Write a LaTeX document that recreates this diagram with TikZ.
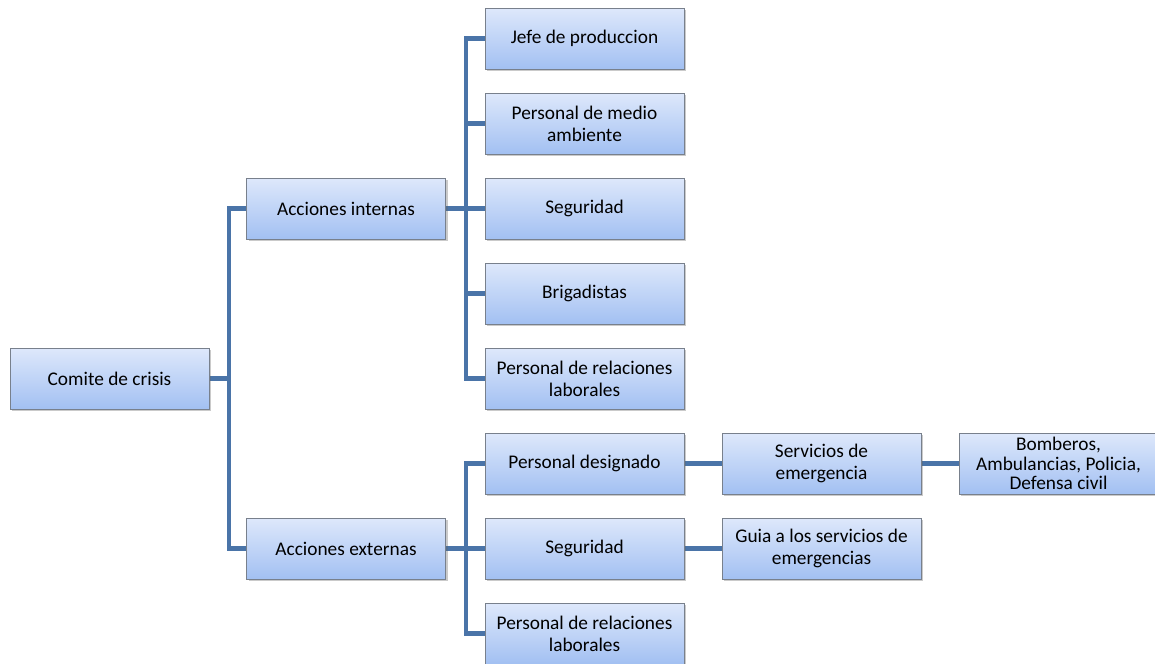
\documentclass[tikz,border=0pt]{standalone}
\usepackage{fontspec}
\setmainfont{Carlito}
\usepackage{xcolor}
\usetikzlibrary{shadows, backgrounds}
\definecolor{LineColor}{RGB}{74, 116, 168}
\definecolor{BoxTop}{RGB}{222, 232, 251}
\definecolor{BoxBottom}{RGB}{162, 192, 242}
\definecolor{BoxBorder}{RGB}{120, 128, 140}

\begin{document}
\begin{tikzpicture}[
    x=0.02cm, y=-0.02cm,
    caja/.style={
        draw=BoxBorder, line width=0.4pt,
        top color=BoxTop, bottom color=BoxBottom,
        minimum width=3.98cm, minimum height=1.22cm,
        align=center, inner ysep=0pt,
        font=\fontsize{11}{12.6}\selectfont,
        drop shadow={shadow xshift=1.2pt, shadow yshift=-1.2pt,
                     opacity=0.35, fill=black!60}
    },
    conn/.style={draw=LineColor, line width=2.3pt, line cap=rect},
]
\useasboundingbox (0,0) rectangle (1155,663);
\clip (0,0) rectangle (1155,663);

%% Level 1
\node[caja] (comite) at (109.5, 378.5) {Comite de crisis};

%% Level 2
\node[caja] (internas) at (346, 208.5) {Acciones internas};
\node[caja] (externas) at (346, 548.5) {Acciones externas};

%% Level 3, internal actions
\node[caja] (jefe)  at (584.5,  38.5) {Jefe de produccion};
\node[caja] (medio) at (584.5, 123.5) {Personal de medio\\ambiente};
\node[caja] (segI)  at (584.5, 208.5) {Seguridad};
\node[caja] (brig)  at (584.5, 293.5) {Brigadistas};
\node[caja] (relI)  at (584.5, 378.5) {Personal de relaciones\\laborales};

%% Level 3, external actions
\node[caja] (desig) at (584.5, 463.5) {Personal designado};
\node[caja] (segE)  at (584.5, 548.5) {Seguridad};
\node[caja] (relE)  at (584.5, 633.5) {Personal de relaciones\\laborales};

%% Level 4 and 5
\node[caja] (serv)  at (821.5, 463.5) {Servicios de\\emergencia};
\node[caja] (guia)  at (821.5, 548.5) {Guia a los servicios de\\emergencias};
\node[caja, font=\fontsize{11}{10.9}\selectfont] (bomb) at (1058.5, 463.5)
    {Bomberos,\\Ambulancias, Policia,\\Defensa civil};

%% Connectors
\begin{scope}[on background layer]
\foreach \child in {internas, externas}
    \draw[conn] (comite.east) -- ++(20,0) |- (\child.west);
\foreach \child in {jefe, medio, segI, brig, relI}
    \draw[conn] (internas.east) -- ++(20,0) |- (\child.west);
\foreach \child in {desig, segE, relE}
    \draw[conn] (externas.east) -- ++(20,0) |- (\child.west);
\draw[conn] (desig) -- (serv);
\draw[conn] (segE) -- (guia);
\draw[conn] (serv) -- (bomb);
\end{scope}

\end{tikzpicture}
\end{document}
